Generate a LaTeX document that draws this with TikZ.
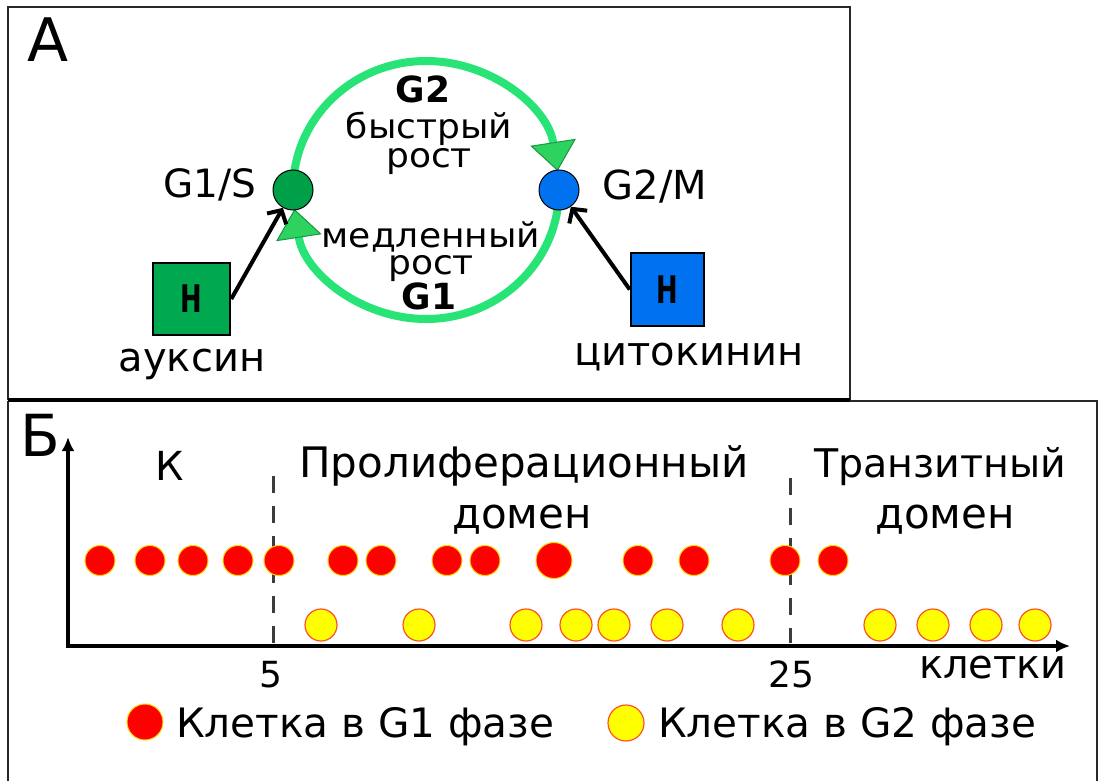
\documentclass[tikz,border=0pt]{standalone}
\usepackage{fontspec}
\usepackage{graphicx}
\setmainfont{DejaVu Sans}
\usetikzlibrary{arrows.meta,backgrounds}
\newcommand\setfs[1]{\fontsize{#1}{#1}\selectfont}
\newcommand\widetxt[1]{\scalebox{1.06}[1]{#1}}

\definecolor{ringgreen}{RGB}{40,228,118}
\definecolor{tipfill}{RGB}{45,210,95}
\definecolor{tipdraw}{RGB}{25,150,70}
\definecolor{gsgreen}{RGB}{0,160,72}
\definecolor{boxgreen}{RGB}{0,168,80}
\definecolor{mblue}{RGB}{0,114,240}
\definecolor{dotred}{RGB}{255,0,0}
\definecolor{dotrim}{RGB}{255,215,0}
\definecolor{dotyellow}{RGB}{255,255,0}
\definecolor{yrim}{RGB}{255,80,40}
\definecolor{dashgray}{RGB}{60,60,60}
\definecolor{framegray}{RGB}{40,40,40}

\begin{document}
\begin{tikzpicture}[x=1pt,y=-1pt,
  lbl/.style={anchor=base, inner sep=0pt, font=\setfs{#1}},
  blbl/.style={anchor=base, inner sep=0pt, font=\setfs{#1}\bfseries},
  leg/.style={anchor=base west, inner sep=0pt, font=\setfs{#1}},
  ringtxt/.style={align=center, inner sep=0pt, font=\fontsize{34}{#1}\selectfont},
  phasept/.style={circle, draw=black, line width=1pt, minimum size=40pt, inner sep=0pt},
  cyclering/.style={ringgreen, line width=8pt,
    -{Triangle[width=46pt,length=29pt,line width=1pt,color=tipdraw,fill=tipfill]}},
  hbox/.style={draw=black, line width=2.5pt, inner sep=0pt,
    font=\setfs{38}\bfseries},
  hormone/.style={line width=4pt, -{Straight Barb[length=10pt,width=22pt]}},
  reddot/.style={circle, fill=dotred, draw=dotrim, line width=1pt,
    minimum size=30pt, inner sep=0pt},
  yeldot/.style={circle, fill=dotyellow, draw=yrim, line width=1.2pt,
    minimum size=32pt, inner sep=0pt},
  zoneline/.style={dashgray, line width=3pt, dash pattern=on 17pt off 13pt},
  plotaxis/.style={line width=4pt, {Latex[length=14pt,width=13pt]}-{Latex[length=14pt,width=13pt]}},
  frameline/.style={framegray, line width=1.6pt}
]
\useasboundingbox (0,0) rectangle (1098,781);

% ---------- frames ----------
\draw[frameline] (8,401) -- (8,781);
\draw[frameline] (8,401) -- (1097,401) -- (1097,781);
\draw[frameline] (8,400) -- (8,7) -- (850,7) -- (850,400);
\draw[line width=4pt] (8,400) -- (850,400);

% ---------- panel A: cell cycle ----------
\node[lbl=60] (labA) at (48,62) {А};

\node[phasept, fill=gsgreen] (g1s) at (293,190) {};
\node[phasept, fill=mblue] (g2m) at (559,190) {};

\begin{scope}[on background layer]
  \draw[cyclering] (g1s.center) arc[start angle=180, end angle=8.5,
    x radius=133pt, y radius=129pt];
  \draw[cyclering] (g2m.center) arc[start angle=0, end angle=-171.5,
    x radius=133pt, y radius=129pt];
\end{scope}

\node[lbl=39] (g1slab) at (210,197) {G1/S};
\node[lbl=40] (g2mlab) at (655,200) {G2/M};

\node[blbl=36] (g2) at (423,103) {G2};
\node[ringtxt=29] (fast) at (429,143.5) {\widetxt{быстрый}\\\widetxt{рост}};
\node[ringtxt=27] (slow) at (431,251.5) {\widetxt{медленный}\\\widetxt{рост}};
\node[blbl=36] (g1) at (429,309) {G1};

\node[hbox, fill=boxgreen, minimum width=77pt, minimum height=72pt] (gbox)
  at (191.5,299) {\scalebox{0.68}[1]{H}};
\node[hbox, fill=mblue, minimum width=73pt, minimum height=73pt] (bbox)
  at (667.5,289.5) {\scalebox{0.68}[1]{H}};

\draw[hormone] (gbox.east) -- (g1s);
\draw[hormone] (bbox.west) -- (g2m);

\node[lbl=40] (auxin) at (192,371) {ауксин};
\node[lbl=40] (cytok) at (689,365) {цитокинин};

% ---------- panel B: root zones ----------
\node[lbl=58] (labB) at (40,456) {Б};

\coordinate (orig) at (68,646);
\coordinate (ytip) at (68,437);
\coordinate (xtip) at (1070,646);

\coordinate (d5top) at (273,476);
\coordinate (d5bot) at (273,643);
\coordinate (d25top) at (790,478);
\coordinate (d25bot) at (790,643);
\draw[zoneline] (d5top) -- (d5bot);
\draw[zoneline] (d25top) -- (d25bot);

\draw[plotaxis] (ytip) -- (orig) -- (xtip);

\node[lbl=40] (zk) at (170,480) {К};
\node[lbl=42] (zprol) at (524,477) {Пролиферационный};
\node[lbl=42] (zprol2) at (522,528) {домен};
\node[lbl=39.5] (ztr) at (940,477) {Транзитный};
\node[lbl=42] (ztr2) at (945,528) {домен};

\node[lbl=36] (t5) at (271,687) {5};
\node[lbl=36] (t25) at (791,687) {25};
\node[lbl=40] (tcells) at (993,678) {клетки};

% G1-phase cells
\foreach \x [count=\i] in {100,150,193,238,279,343,381,447,485,638,694,785,833}
  \node[reddot] (r\i) at (\x,560.5) {};
\node[reddot, minimum size=36pt] (rbig) at (554,560.5) {};

% G2-phase cells
\foreach \x [count=\i] in {321,419,526,576,614,667,738,880,933,986,1035}
  \node[yeldot] (y\i) at (\x,625) {};

% legend
\node[reddot, minimum size=36pt] (legr) at (145,722) {};
\node[leg=40.5] (legrt) at (176,737) {Клетка в G1 фазе};
\node[yeldot, minimum size=36pt] (legy) at (626,723) {};
\node[leg=40.5] (legyt) at (658,737) {Клетка в G2 фазе};
\end{tikzpicture}
\end{document}
